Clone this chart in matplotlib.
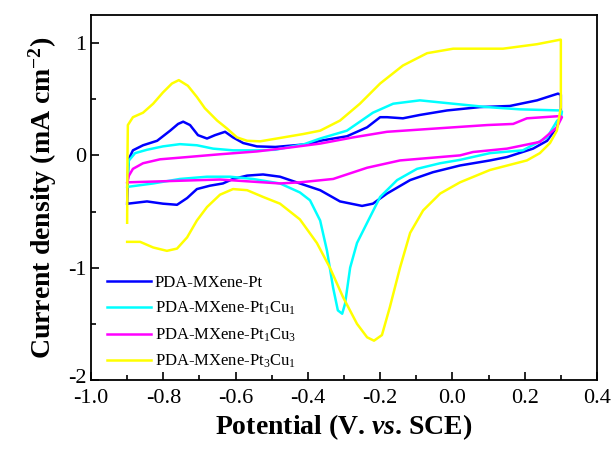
import numpy as np
import matplotlib
matplotlib.use("Agg")
import matplotlib.pyplot as plt
import matplotlib.transforms as mtransforms
from matplotlib.ticker import MultipleLocator, FormatStrFormatter

plt.rcParams['font.family'] = ['Liberation Serif', 'DejaVu Serif']
plt.rcParams['mathtext.fontset'] = 'custom'
plt.rcParams['mathtext.rm'] = 'Liberation Serif'
plt.rcParams['mathtext.it'] = 'Liberation Serif:italic'
plt.rcParams['mathtext.bf'] = 'Liberation Serif:bold'
plt.rcParams['mathtext.bfit'] = 'Liberation Serif:bold:italic'
plt.rcParams['axes.unicode_minus'] = False

# CV loops (forward scan then reverse scan)
pt_v = [-0.900, -0.897, -0.895, -0.884, -0.856, -0.817, -0.781, -0.759, -0.745, -0.726,
        -0.704, -0.679, -0.657, -0.629, -0.607, -0.579, -0.541, -0.490, -0.400, -0.366,
        -0.292, -0.236, -0.200, -0.181, -0.137, -0.090, -0.015, 0.076, 0.159, 0.234,
        0.292, 0.300,
        0.300, 0.289, 0.262, 0.223, 0.151, 0.104, 0.021, -0.054, -0.117, -0.181,
        -0.220, -0.250, -0.311, -0.366, -0.422, -0.477, -0.524, -0.568, -0.607, -0.635,
        -0.671, -0.707, -0.734, -0.762, -0.801, -0.845, -0.898]
pt_i = [-0.43, -0.10, -0.03, 0.045, 0.09, 0.13, 0.22, 0.28, 0.30, 0.27,
        0.18, 0.15, 0.18, 0.21, 0.16, 0.11, 0.08, 0.075, 0.10, 0.13,
        0.17, 0.25, 0.34, 0.34, 0.33, 0.36, 0.40, 0.43, 0.44, 0.49,
        0.55, 0.54,
        0.37, 0.25, 0.13, 0.06, -0.015, -0.045, -0.09, -0.15, -0.22, -0.34,
        -0.43, -0.45, -0.41, -0.31, -0.25, -0.19, -0.17, -0.18, -0.21, -0.25,
        -0.27, -0.30, -0.38, -0.44, -0.43, -0.41, -0.43]

ptcu11_v = [-0.900, -0.897, -0.895, -0.878, -0.845, -0.801, -0.754, -0.707, -0.662, -0.607,
            -0.541, -0.490, -0.410, -0.366, -0.292, -0.220, -0.164, -0.090, 0.002, 0.096,
            0.187, 0.298, 0.303,
            0.300, 0.290, 0.262, 0.195, 0.104, 0.021, -0.034, -0.098, -0.153, -0.200,
            -0.236, -0.264, -0.283, -0.297, -0.305, -0.317, -0.330, -0.347, -0.366, -0.394,
            -0.422, -0.477, -0.552, -0.615, -0.679, -0.754, -0.828, -0.898]
ptcu11_i = [-0.28, -0.10, -0.045, 0.02, 0.05, 0.08, 0.10, 0.09, 0.06, 0.045,
            0.045, 0.05, 0.10, 0.15, 0.22, 0.38, 0.46, 0.49, 0.46, 0.43,
            0.41, 0.40, 0.39,
            0.33, 0.31, 0.16, 0.045, 0.02, -0.04, -0.07, -0.12, -0.22, -0.37,
            -0.60, -0.78, -1.00, -1.32, -1.41, -1.38, -1.18, -0.85, -0.58, -0.40,
            -0.33, -0.25, -0.21, -0.19, -0.19, -0.21, -0.25, -0.28]

ptcu13_v = [-0.900, -0.895, -0.884, -0.856, -0.809, -0.734, -0.643, -0.541, -0.450, -0.366,
            -0.275, -0.181, -0.043, 0.096, 0.168, 0.206, 0.298,
            0.303, 0.289, 0.242, 0.151, 0.057, 0.021, -0.145, -0.236, -0.330, -0.422,
            -0.477, -0.643, -0.898]
ptcu13_i = [-0.24, -0.18, -0.12, -0.07, -0.035, -0.015, 0.01, 0.035, 0.07, 0.105,
            0.16, 0.21, 0.24, 0.27, 0.28, 0.33, 0.35,
            0.34, 0.25, 0.12, 0.06, 0.03, 0.00, -0.045, -0.11, -0.21, -0.24,
            -0.25, -0.215, -0.24]

ptcu31_v = [-0.900, -0.899, -0.898, -0.884, -0.856, -0.828, -0.801, -0.776, -0.757, -0.732,
            -0.707, -0.685, -0.651, -0.624, -0.596, -0.568, -0.532, -0.413, -0.366, -0.311,
            -0.256, -0.200, -0.137, -0.070, 0.002, 0.140, 0.234, 0.298,
            0.300, 0.300, 0.289, 0.270, 0.242, 0.206, 0.104, 0.021, -0.034, -0.081,
            -0.117, -0.145, -0.173, -0.195, -0.217, -0.236, -0.264, -0.303, -0.339, -0.375,
            -0.422, -0.477, -0.524, -0.568, -0.607, -0.643, -0.679, -0.707, -0.734, -0.762,
            -0.790, -0.828, -0.864, -0.900]
ptcu31_i = [-0.60, 0.00, 0.27, 0.34, 0.38, 0.46, 0.56, 0.64, 0.67, 0.62,
            0.52, 0.42, 0.31, 0.24, 0.16, 0.13, 0.125, 0.19, 0.22, 0.31,
            0.46, 0.64, 0.80, 0.91, 0.95, 0.95, 0.99, 1.03,
            1.03, 0.43, 0.22, 0.11, 0.02, -0.045, -0.13, -0.24, -0.34, -0.49,
            -0.69, -1.00, -1.35, -1.60, -1.65, -1.62, -1.50, -1.26, -1.00, -0.78,
            -0.57, -0.43, -0.37, -0.31, -0.30, -0.35, -0.46, -0.58, -0.73, -0.83,
            -0.85, -0.82, -0.77, -0.77]

labels = ['PDA-MXene-Pt', 'PDA-MXene-Pt$_1$Cu$_1$',
          'PDA-MXene-Pt$_1$Cu$_3$', 'PDA-MXene-Pt$_3$Cu$_1$']
colors = ['#0000ff', '#00ffff', '#ff00ff', '#ffff00']

fig = plt.figure(figsize=(6.14, 4.49), dpi=100)
ax = fig.add_axes([0.1482, 0.1537, 0.8241, 0.8129])

curves = [(pt_v, pt_i), (ptcu11_v, ptcu11_i), (ptcu13_v, ptcu13_i), (ptcu31_v, ptcu31_i)]
for (v, i), c, lab in zip(curves, colors, labels):
    ax.plot(v, i, color=c, lw=1.8, label=lab, solid_joinstyle='round')

ax.set_xlim(-1.0, 0.4)
ax.set_ylim(-2, 1.25)
ax.xaxis.set_major_locator(MultipleLocator(0.2))
ax.xaxis.set_minor_locator(MultipleLocator(0.1))
ax.xaxis.set_major_formatter(FormatStrFormatter('%.1f'))
ax.yaxis.set_major_locator(MultipleLocator(1))
ax.yaxis.set_minor_locator(MultipleLocator(0.5))
ax.tick_params(which='both', direction='in', labelsize=16, width=1.2)
ax.tick_params(which='major', length=6)
ax.tick_params(which='minor', length=3.5)
ax.tick_params(axis='x', pad=6.5)
for s in ax.spines.values():
    s.set_linewidth(1.3)

# lift the bottom "-2" label a little so it sits just above "-1.0"
fig.canvas.draw()
lift = mtransforms.ScaledTranslation(0, 3 / 72, fig.dpi_scale_trans)
for t in ax.get_yticklabels():
    if t.get_text() == '-2':
        t.set_transform(t.get_transform() + lift)

ax.set_xlabel(r'Potential (V. $\mathbfit{vs}$. SCE)', fontsize=20, fontweight='bold', labelpad=3)
ax.set_ylabel(r'Current density (mA cm$^{\mathbf{-2}}$)', fontsize=20, fontweight='bold', labelpad=6)

ax.legend(loc='lower left', bbox_to_anchor=(0.006, -0.01), frameon=False, fontsize=12,
          handlelength=2.6, handletextpad=0.25, labelspacing=0.55, borderpad=0.3)

fig.savefig('out.png', dpi=100)
